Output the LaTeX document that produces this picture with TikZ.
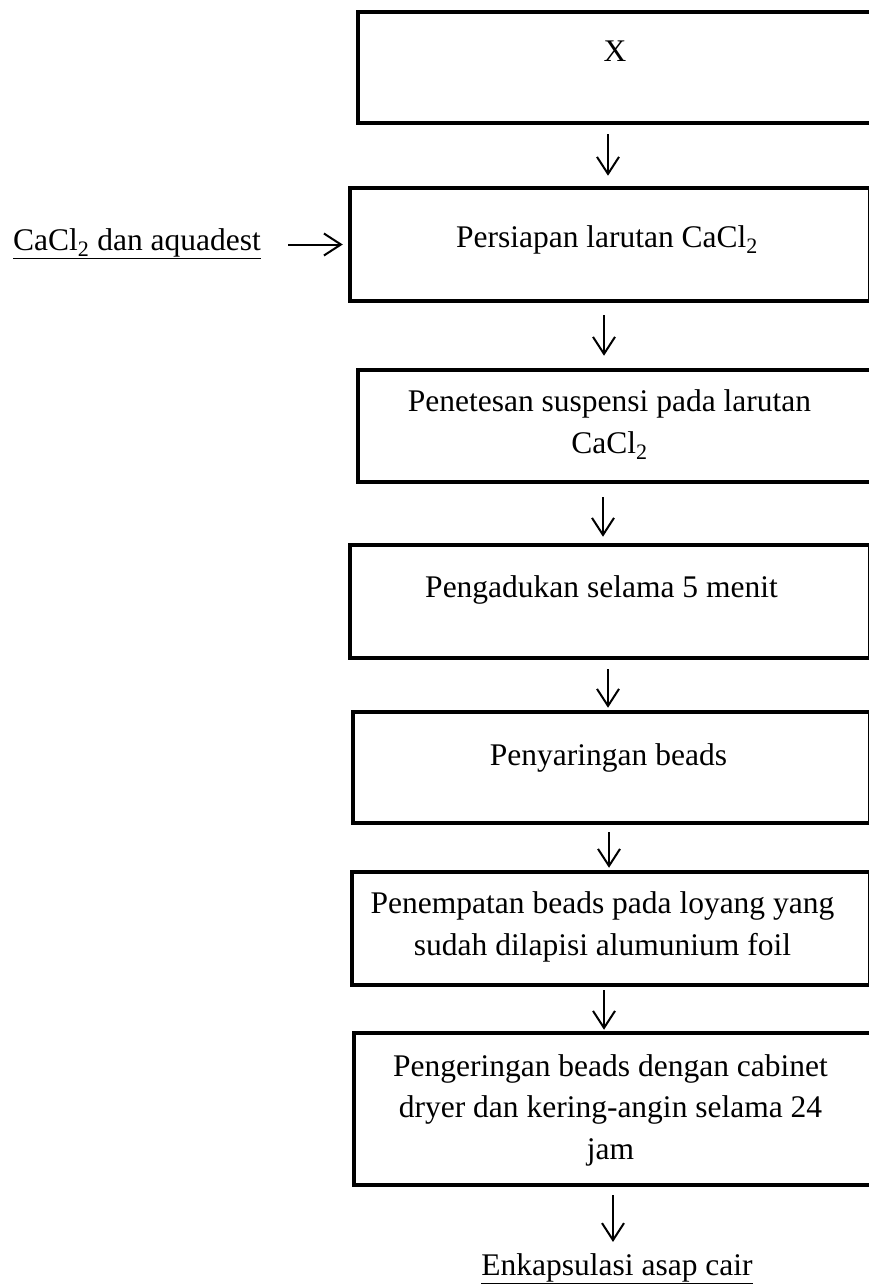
\documentclass[tikz,border=0pt]{standalone}
\usepackage{fontspec}
\setmainfont{Liberation Serif}
\usetikzlibrary{arrows.meta}
\tikzset{
  box/.style={draw=black, line width=4.5pt, inner sep=0pt, fill=none},
  txt/.style={inner sep=0pt, font=\fontsize{31.5}{41.5}\selectfont, align=center, anchor=base},
  arr/.style={draw=black, line width=2pt, -{Straight Barb[length=17pt,width=22pt,line width=2pt]}},
}
\begin{document}
\begin{tikzpicture}[x=1pt,y=-1pt]
\useasboundingbox (0,0) rectangle (869,1284);
% boxes
\node[box, minimum width=515pt, minimum height=111pt] (b1) at (615.5,67.5) {};
\node[box, minimum width=520pt, minimum height=113pt] (b2) at (610,244.5) {};
\node[box, minimum width=515pt, minimum height=112pt] (b3) at (615.5,426) {};
\node[box, minimum width=520pt, minimum height=113pt] (b4) at (610,601.5) {};
\node[box, minimum width=517pt, minimum height=111pt] (b5) at (611.5,767.5) {};
\node[box, minimum width=518pt, minimum height=113pt] (b6) at (611,928.5) {};
\node[box, minimum width=519pt, minimum height=152pt] (b7) at (613.5,1109) {};
% texts (base anchor = baseline of the last line)
\node[txt] (t1) at (615,62) {X};
\node[txt] (t2) at (607,247) {Persiapan larutan CaCl\textsubscript{2}};
\node[txt] (t3) at (609.5,453) {Penetesan suspensi pada larutan\\CaCl\textsubscript{2}};
\node[txt] (t4) at (601.5,597) {Pengadukan selama 5 menit};
\node[txt] (t5) at (608.5,765) {Penyaringan beads};
\node[txt] (t6) at (602.5,955) {Penempatan beads pada loyang yang\\sudah dilapisi alumunium foil};
\node[txt] (t7) at (610.5,1159) {Pengeringan beads dengan cabinet\\dryer dan kering-angin selama 24\\jam};
\node[txt] (lab) at (137,250) {\underline{CaCl\textsubscript{2} dan aquadest}};
\node[txt] (out) at (617,1275) {\underline{Enkapsulasi asap cair}};
% arrows
\draw[arr, shorten <=9pt, shorten >=10pt] (b1.south -| 608,0) -- (b2.north -| 608,0);
\draw[arr, shorten <=12pt, shorten >=12pt] (b2.south -| 604,0) -- (b3.north -| 604,0);
\draw[arr, shorten <=13pt, shorten >=6pt] (b3.south -| 603,0) -- (b4.north -| 603,0);
\draw[arr, shorten <=9pt, shorten >=2pt] (b4.south -| 608,0) -- (b5.north -| 608,0);
\draw[arr, shorten <=7pt, shorten >=2pt] (b5.south -| 609,0) -- (b6.north -| 609,0);
\draw[arr, shorten <=3pt, shorten >=1pt] (b6.south -| 604,0) -- (b7.north -| 604,0);
\draw[arr, shorten <=8pt, shorten >=11pt] (b7.south -| 613,0) -- (out.north -| 613,0);
\draw[arr, shorten <=27pt, shorten >=5pt] (lab.east |- b2.west) -- (b2.west);
\end{tikzpicture}
\end{document}
